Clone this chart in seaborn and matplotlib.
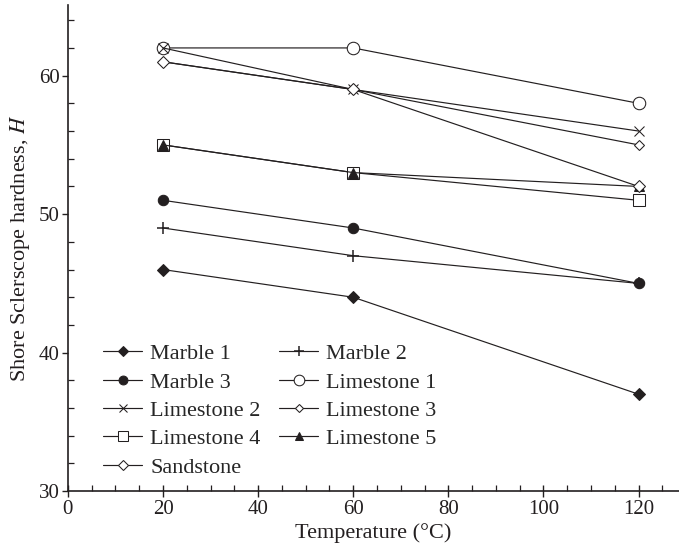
import matplotlib
matplotlib.use("Agg")
import matplotlib.pyplot as plt
from matplotlib.ticker import MultipleLocator
import numpy as np
import pandas as pd
import seaborn as sns

# Test temperatures (°C)
temperature = [20, 60, 120]

# Shore Scleroscope hardness for each rock type
marble_1 = [46, 44, 37]
marble_2 = [49, 47, 45]
marble_3 = [51, 49, 45]
limestone_1 = [62, 62, 58]
limestone_2 = [62, 59, 56]
limestone_3 = [61, 59, 55]
limestone_4 = [55, 53, 51]
limestone_5 = [55, 53, 52]
sandstone = [61, 59, 52]

series_names = ["Marble 1", "Marble 2", "Marble 3", "Limestone 1", "Limestone 2",
                "Limestone 3", "Limestone 4", "Limestone 5", "Sandstone"]
series_values = [marble_1, marble_2, marble_3, limestone_1, limestone_2,
                 limestone_3, limestone_4, limestone_5, sandstone]

ink = "#231f20"
marker_styles = {
    "Marble 1":    dict(marker="D", markersize=6.0, markerfacecolor=ink),
    "Marble 2":    dict(marker="+", markersize=9.0, markerfacecolor=ink, markeredgewidth=1.1),
    "Marble 3":    dict(marker="o", markersize=7.5, markerfacecolor=ink),
    "Limestone 1": dict(marker="o", markersize=9.0, markerfacecolor="white"),
    "Limestone 2": dict(marker="x", markersize=7.0, markerfacecolor=ink),
    "Limestone 3": dict(marker="D", markersize=5.0, markerfacecolor="white"),
    "Limestone 4": dict(marker="s", markersize=8.5, markerfacecolor="white"),
    "Limestone 5": dict(marker="^", markersize=7.5, markerfacecolor=ink),
    "Sandstone":   dict(marker="D", markersize=6.5, markerfacecolor="white"),
}

frames = []
for name, vals in zip(series_names, series_values):
    frames.append(pd.DataFrame({"Temperature": temperature, "Hardness": vals, "Rock": name}))
data = pd.concat(frames, ignore_index=True)

sns.set_style("ticks")
plt.rcParams["font.family"] = ["Liberation Serif", "DejaVu Serif"]
plt.rcParams["mathtext.fontset"] = "stix"
plt.rcParams["font.size"] = 15

fig = plt.figure(figsize=(6.79, 5.55), dpi=100)
ax = fig.add_axes([0.100, 0.115, 0.900, 0.876])

for name in series_names:
    sub = data[data["Rock"] == name]
    sns.lineplot(data=sub, x="Temperature", y="Hardness", ax=ax, color=ink,
                 linewidth=0.85, markeredgecolor=ink, label=name,
                 **marker_styles[name])

ax.set_xlim(0, 128.5)
ax.set_ylim(30, 65.1)
ax.xaxis.set_major_locator(MultipleLocator(20))
ax.xaxis.set_minor_locator(MultipleLocator(5))
ax.yaxis.set_major_locator(MultipleLocator(10))
ax.yaxis.set_minor_locator(MultipleLocator(2))

ax.tick_params(axis="x", which="major", direction="inout", length=9, width=1.0,
               colors=ink, labelsize=15, pad=2)
ax.tick_params(axis="x", which="minor", direction="in", length=4, width=0.9, colors=ink)
ax.tick_params(axis="y", which="major", direction="out", length=4, width=1.0,
               colors=ink, labelsize=15, pad=2)
ax.tick_params(axis="y", which="minor", direction="in", length=4, width=0.9, colors=ink)

for side in ("top", "right"):
    ax.spines[side].set_visible(False)
for side in ("left", "bottom"):
    ax.spines[side].set_linewidth(1.2)
    ax.spines[side].set_color(ink)

ax.set_xlabel("Temperature (°C)", fontsize=16, color=ink, labelpad=3)
ax.set_ylabel("Shore Sclerscope hardness, $\\mathit{H}$", fontsize=16, color=ink, labelpad=5)

# Legend reads row by row: reorder handles for column-major filling
handles, labels = ax.get_legend_handles_labels()
lookup = dict(zip(labels, handles))
order = ["Marble 1", "Marble 3", "Limestone 2", "Limestone 4", "Sandstone",
         "Marble 2", "Limestone 1", "Limestone 3", "Limestone 5"]
ax.legend([lookup[k] for k in order], order, ncol=2, loc="lower left",
          bbox_to_anchor=(0.058, 0.028), frameon=False, fontsize=16,
          handlelength=1.75, handletextpad=0.36, columnspacing=0.85,
          labelspacing=0.35, borderpad=0.0, borderaxespad=0.0, markerscale=0.85)

fig.savefig("out.png", dpi=100)
